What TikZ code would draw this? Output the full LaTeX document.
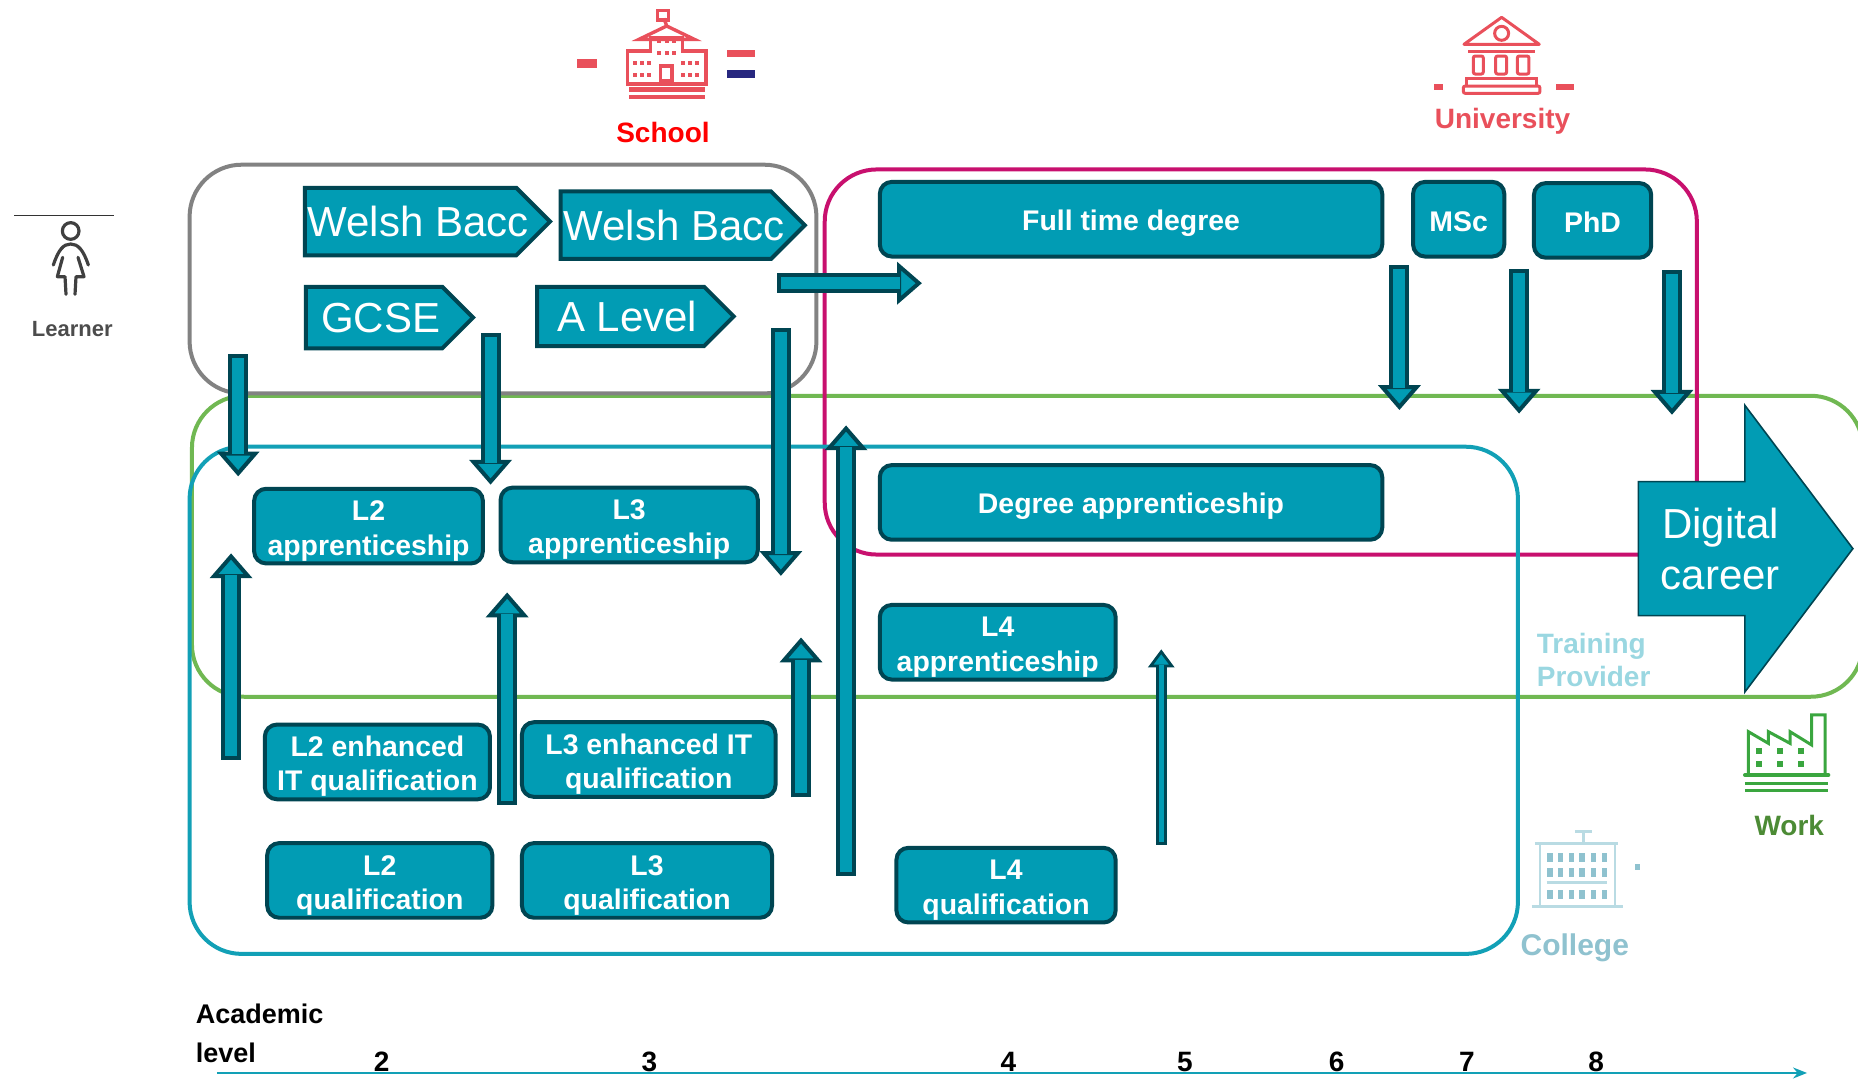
\documentclass[tikz,border=0pt]{standalone}
\usepackage{fontspec}
\setmainfont{Liberation Sans}
\usetikzlibrary{shapes.symbols, shapes.arrows, arrows, arrows.meta}
\def\px{0.5925pt}
\newcommand{\flagtext}[2]{\makebox[0pt]{\hspace*{#1}#2}}
\definecolor{tealfill}{HTML}{019CB4}
\definecolor{tealdark}{HTML}{004552}
\definecolor{framegrey}{HTML}{828282}
\definecolor{framegreen}{HTML}{70B852}
\definecolor{frameteal}{HTML}{12A0B6}
\definecolor{framepink}{HTML}{C8106E}
\definecolor{schoolred}{HTML}{E9505B}
\definecolor{flagblue}{HTML}{27277F}
\definecolor{factorygreen}{HTML}{3AA63F}
\definecolor{workgreen}{HTML}{4C8B35}
\definecolor{collegelight}{HTML}{B9DBE3}
\definecolor{collegemid}{HTML}{8FC2CF}
\tikzstyle{frame} = [rounded corners=26pt, line width=2pt]
\tikzstyle{block} = [rectangle, rounded corners=6pt, minimum height=63*\px, align=center, draw=tealdark, line width=2pt, fill=tealfill, text=white, font=\fontsize{14.2}{17.2}\bfseries\selectfont, inner sep=0pt, text height=14.5pt]
\tikzstyle{twoline} = [block, text height=32pt]
\tikzstyle{flagbox} = [signal, signal to=east, signal from=nowhere, signal pointer angle=90, anchor=west, draw=tealdark, line width=2pt, fill=tealfill, text=white, font=\fontsize{21}{25}\selectfont, inner sep=0pt]
\tikzstyle{bigarrow} = [single arrow, anchor=west, minimum height=181*\px, minimum width=242*\px, single arrow head extend=62*\px, single arrow tip angle=106, single arrow head indent=0pt, draw=tealdark, line width=0.8pt, fill=tealfill, text=white, align=center, font=\fontsize{21}{25.5}\selectfont, inner xsep=6pt, inner ysep=11.4pt]
\tikzstyle{arrow} = [line width=10pt, draw=tealdark, -{Triangle[length=12.4pt, width=21pt, line width=2pt, color=tealdark, fill=tealfill]}, postaction={draw=tealfill, line width=6pt, arrows=-, shorten >=11pt, shorten <=2pt}]
\tikzstyle{thinarrow} = [line width=5.5pt, draw=tealdark, -{Triangle[length=9pt, width=13pt, line width=1.4pt, color=tealdark, fill=tealfill]}, postaction={draw=tealfill, line width=2.6pt, arrows=-, shorten >=8pt, shorten <=1.4pt}]
\tikzstyle{caption} = [font=\fontsize{14}{17}\bfseries\selectfont]
\begin{document}
\begin{tikzpicture}[x=0.5925pt, y=-0.5925pt]
    \useasboundingbox (0,0) rectangle (1568,909.8);

    % outlines of the four providers
    \draw[frame, framegreen] (162,334) rectangle (1572,588);
    \draw[frame, framepink] (696,143) rectangle (1432,468);
    \draw[frame, frameteal] (160,377) rectangle (1281,805);
    \draw[frame, framegrey] (160,139) rectangle (689,332);

    % school and university
    \node[flagbox, minimum width=207*\px, minimum height=57*\px] (baccone) at (255.5,187) {\flagtext{7.7pt}{Welsh Bacc}};
    \node[flagbox, minimum width=206*\px, minimum height=57*\px] (bacctwo) at (471.5,190) {\flagtext{8.3pt}{Welsh Bacc}};
    \node[flagbox, minimum width=141*\px, minimum height=52*\px] (gcse) at (256.5,268) {\flagtext{6.5pt}{GCSE}};
    \node[flagbox, minimum width=166*\px, minimum height=50*\px] (alevel) at (451.5,267) {\flagtext{6.5pt}{A Level}};
    \node[block, minimum width=424*\px] (fulltime) at (954.5,185) {Full time degree};
    \node[block, minimum width=77*\px, text height=12.5pt] (msc) at (1231,185) {MSc};
    \node[block, minimum width=99*\px, text height=12.5pt] (phd) at (1344,186) {PhD};

    % work based and college routes
    \node[block, minimum width=424*\px] (degree) at (954.5,424) {Degree apprenticeship};
    \node[twoline, minimum width=193*\px] (ltwoapp) at (311,444) {L2\\apprenticeship};
    \node[twoline, minimum width=217*\px] (lthreeapp) at (531,443) {L3\\apprenticeship};
    \node[twoline, minimum width=199*\px] (lfourapp) at (842,542) {L4\\apprenticeship};
    \node[twoline, minimum width=190*\px] (ltwoenh) at (318.5,643) {L2 enhanced\\IT qualification};
    \node[twoline, minimum width=214*\px] (lthreeenh) at (547.5,641) {L3 enhanced IT\\qualification};
    \node[twoline, minimum width=190*\px] (ltwoqual) at (320.5,743) {L2\\qualification};
    \node[twoline, minimum width=211*\px] (lthreequal) at (546,743) {L3\\qualification};
    \node[twoline, minimum width=185*\px] (lfourqual) at (849,747) {L4\\qualification};
    \node[bigarrow] (career) at (1382,463) {Digital\\career};

    % arrow ends
    \coordinate (bacctail) at (201,299);
    \coordinate (baccend) at (201,402);
    \coordinate (gcsetail) at (414,281);
    \coordinate (gcseend) at (414,409);
    \coordinate (leveltail) at (659,277);
    \coordinate (levelend) at (659,486);
    \coordinate (hoptail) at (656,239);
    \coordinate (hopend) at (778,239);
    \coordinate (enhtail) at (195,641);
    \coordinate (enhend) at (195,467);
    \coordinate (midtail) at (428,679);
    \coordinate (midend) at (428,500);
    \coordinate (lthreetail) at (676,673);
    \coordinate (lthreeend) at (676,538);
    \coordinate (longtail) at (714,739);
    \coordinate (longend) at (714,359);
    \coordinate (lfourtail) at (980,713);
    \coordinate (lfourend) at (980,548);
    \coordinate (fulltail) at (1181,224);
    \coordinate (fullend) at (1181,346);
    \coordinate (msctail) at (1282,227);
    \coordinate (mscend) at (1282,349);
    \coordinate (phdtail) at (1411,228);
    \coordinate (phdend) at (1411,350);

    \draw[arrow] (bacctail) -- (baccend);
    \draw[arrow] (gcsetail) -- (gcseend);
    \draw[arrow] (leveltail) -- (levelend);
    \draw[arrow] (hoptail) -- (hopend);
    \draw[arrow] (enhtail) -- (enhend);
    \draw[arrow] (midtail) -- (midend);
    \draw[arrow] (lthreetail) -- (lthreeend);
    \draw[arrow] (longtail) -- (longend);
    \draw[thinarrow] (lfourtail) -- (lfourend);
    \draw[arrow] (fulltail) -- (fullend);
    \draw[arrow] (msctail) -- (mscend);
    \draw[arrow] (phdtail) -- (phdend);

    % captions
    \node[caption, text=red] (school) at (559.5,112) {School};
    \node[caption, text=schoolred] (university) at (1268,102) {University};
    \node[font=\fontsize{11}{13}\bfseries\selectfont, text=black!70] (learner) at (61,278) {Learner};
    \node[caption, text=workgreen] (work) at (1510,697) {Work};
    \node[font=\fontsize{15}{18}\bfseries\selectfont, text=collegemid] (college) at (1329,800) {College};
    \node[caption, text=tealfill!40, align=left, anchor=west, font=\fontsize{14}{16.6}\bfseries\selectfont] (training) at (1291,557) {Training\\Provider};

    % school icon
    \begin{scope}[xshift=270pt, x=0.1667pt, y=-0.1667pt, draw=schoolred, line width=1.7pt]
        \fill[schoolred] (112,178) rectangle (170,203);
        \fill[schoolred] (560,150) rectangle (645,172);
        \fill[flagblue] (560,210) rectangle (645,233);
        \draw (262,252) -- (262,153) -- (332,153) -- (332,112) -- (428,112) -- (428,153) -- (498,153) -- (498,252) -- cycle;
        \draw (297,118) -- (380,78) -- (463,118) -- cycle;
        \draw (380,78) -- (372,55);
        \draw (352,32) rectangle (385,60);
        \draw (362,198) rectangle (396,242);
        \fill[schoolred] (266,262) rectangle (494,275);
        \fill[schoolred] (266,285) rectangle (494,297);
        \foreach \wx in {284,306,328,428,450,472} {
            \foreach \wy in {190,226} {
                \fill[schoolred] (\wx-6,\wy-6) rectangle (\wx+6,\wy+6);
            }
        }
        \foreach \wx in {358,380,402} {
            \foreach \wy in {124,160} {
                \fill[schoolred] (\wx-6,\wy-6) rectangle (\wx+6,\wy+6);
            }
        }
    \end{scope}

    % university icon
    \begin{scope}[xshift=700pt, x=0.1667pt, y=-0.1667pt, draw=schoolred, line width=1.5pt]
        \fill[schoolred] (103,252) rectangle (130,270);
        \fill[schoolred] (468,252) rectangle (522,270);
        \draw[line join=round] (305,52) -- (418,133) -- (192,133) -- cycle;
        \draw (305,100) circle (21);
        \draw (205,153) -- (405,153);
        \draw[rounded corners=1pt] (220,168) rectangle (250,222);
        \draw[rounded corners=1pt] (287,168) rectangle (320,222);
        \draw[rounded corners=1pt] (352,168) rectangle (387,222);
        \draw (200,258) -- (200,236) -- (410,236) -- (410,258);
        \draw[rounded corners=1pt] (190,258) rectangle (420,280);
    \end{scope}

    % learner icon
    \draw[black!80, line width=0.8pt] (12,182) -- (96,182);
    \begin{scope}[yshift=-100pt, x=0.1667pt, y=-0.1667pt, black!75, line width=1.6pt, line cap=round, line join=round]
        \draw (212,93) circle (25);
        \draw (160,195) .. controls (175,150) and (190,132) .. (212,132) .. controls (234,132) and (250,150) .. (265,195);
        \draw (188,172) -- (172,230) -- (195,230) -- (198,283);
        \draw (234,172) -- (252,230) -- (228,230) -- (225,283);
    \end{scope}

    % factory icon
    \begin{scope}[xshift=750pt, yshift=-340pt, x=0.1667pt, y=-0.1667pt, draw=factorygreen, line width=1.5pt]
        \draw (745,285) -- (745,155) -- (805,190) -- (805,155) -- (870,190) -- (870,155) -- (935,195) -- (935,105) -- (975,105) -- (975,285);
        \draw[line width=2pt, line cap=round] (735,285) -- (985,285);
        \draw (735,310) -- (985,310);
        \draw (735,332) -- (985,332);
        \foreach \wx in {778,840,902} {
            \foreach \wy in {213,253} {
                \fill[factorygreen] (\wx-9,\wy-9) rectangle (\wx+9,\wy+9);
            }
        }
    \end{scope}

    % college icon
    \begin{scope}[xshift=750pt, yshift=-340pt, x=0.1667pt, y=-0.1667pt, draw=collegelight, line width=1.4pt]
        \draw (225,455) -- (275,455) (250,455) -- (250,488);
        \draw (105,490) -- (355,490);
        \draw (120,490) -- (120,680);
        \draw (345,490) -- (345,680);
        \draw (95,680) -- (370,680);
        \draw (140,607) -- (320,607);
        \foreach \wx in {150,182,214,246,280,313} {
            \foreach \wy in {533,578,643} {
                \fill[collegemid] (\wx-8,\wy-14) rectangle (\wx+8,\wy+14);
            }
        }
        \fill[collegemid] (405,552) rectangle (421,570);
    \end{scope}

    % level axis
    \coordinate (axisstart) at (183,905.5);
    \coordinate (axisend) at (1525,905.5);
    \draw[frameteal, line width=0.8pt, -{Stealth[length=7pt, width=5.5pt]}] (axisstart) -- (axisend);
    \node[font=\fontsize{13.5}{19.5}\bfseries\selectfont, align=left, anchor=west, inner sep=0pt] (academic) at (165,872) {Academic\\level};
    \node[caption] (lvltwo) at (322,896) {2};
    \node[caption] (lvlthree) at (548,896) {3};
    \node[caption] (lvlfour) at (851,896) {4};
    \node[caption] (lvlfive) at (1000,896) {5};
    \node[caption] (lvlsix) at (1128,896) {6};
    \node[caption] (lvlseven) at (1238,896) {7};
    \node[caption] (lvleight) at (1347,896) {8};
\end{tikzpicture}
\end{document}
